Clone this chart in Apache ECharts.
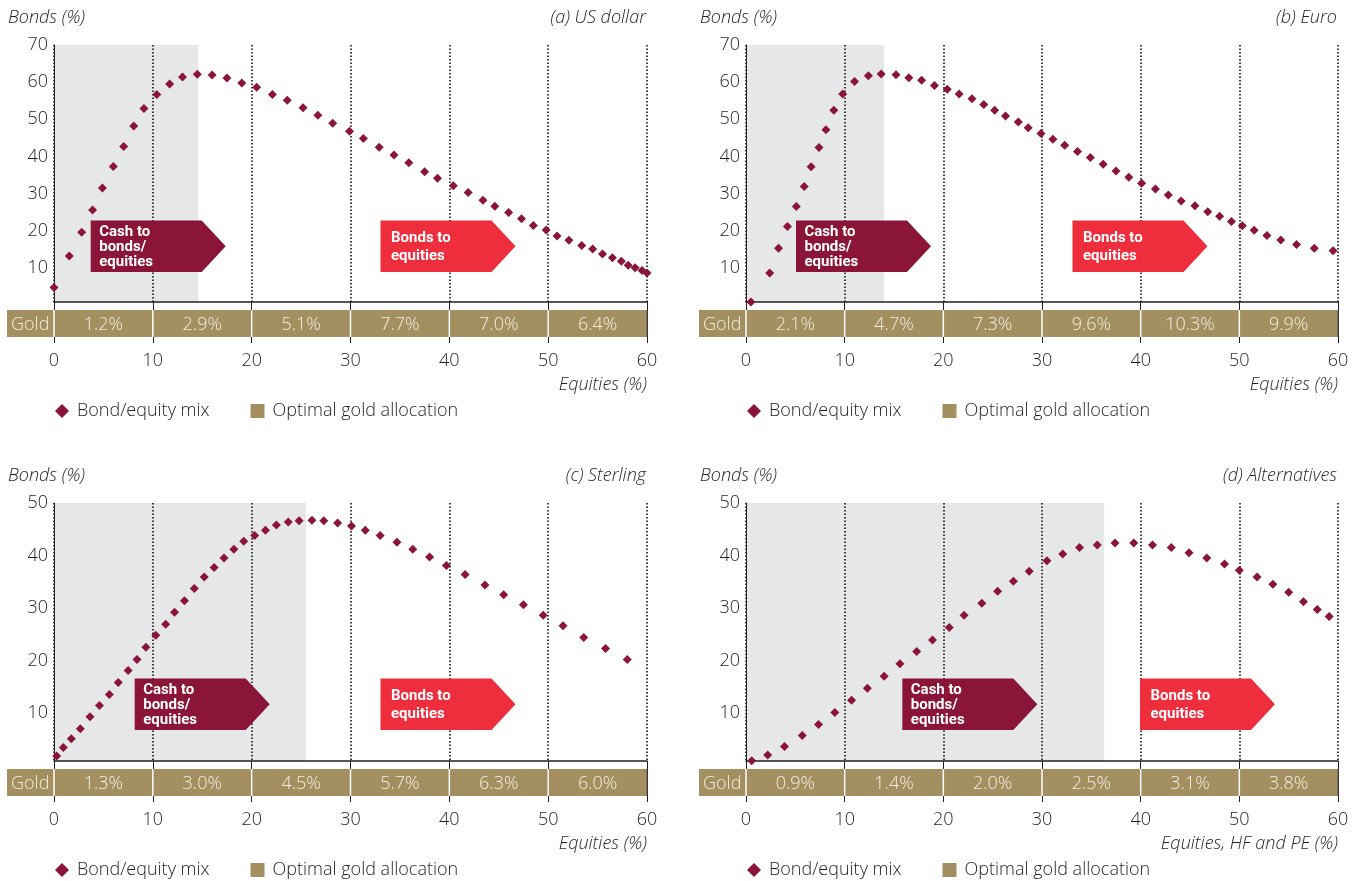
<!DOCTYPE html>
<html><head><meta charset="utf-8">
<script src="https://cdn.jsdelivr.net/npm/echarts@6/dist/echarts.min.js"></script>
<style>html,body{margin:0;padding:0;background:#fff}#c{width:1359px;height:881px}</style>
</head><body><div id="c"></div>
<script>
// ---------- data ----------
const equityTicks = [0, 10, 20, 30, 40, 50, 60];
const bondTicksUpper = [10, 20, 30, 40, 50, 60, 70];
const bondTicksLower = [10, 20, 30, 40, 50];

const usdEquities = [0, 1.55, 2.8, 3.9, 4.9, 6.0, 7.05, 8.07, 9.1, 10.4, 11.7, 13.0, 14.5, 16.0, 17.5, 19.0, 20.5, 22.1, 23.6, 25.2, 26.7, 28.2, 29.9, 31.3, 32.9, 34.4, 35.9, 37.5, 38.8, 40.4, 41.9, 43.4, 44.6, 46.0, 47.3, 48.5, 49.8, 50.9, 52.1, 53.4, 54.5, 55.5, 56.5, 57.4, 58.1, 58.8, 59.5, 60.0];
const usdBonds = [4.7, 13.2, 19.6, 25.6, 31.5, 37.3, 42.7, 48.2, 52.9, 56.7, 59.5, 61.4, 62.1, 61.9, 61.1, 59.8, 58.6, 56.7, 55.1, 53.1, 51.1, 48.9, 46.8, 44.8, 42.5, 40.4, 38.3, 35.9, 34.1, 32.1, 30.3, 28.2, 26.6, 24.9, 23.2, 21.4, 20.2, 18.6, 17.4, 16.0, 15.1, 13.7, 12.7, 11.8, 10.7, 10.0, 9.3, 8.6];
const usdGold = [1.2, 2.9, 5.1, 7.7, 7.0, 6.4];
const usdShadeEnd = 14.6;

const eurEquities = [0.5, 2.4, 3.3, 4.2, 5.1, 5.9, 6.6, 7.4, 8.1, 8.9, 9.8, 11.0, 12.4, 13.7, 15.2, 16.5, 17.8, 19.1, 20.4, 21.6, 22.9, 24.1, 25.2, 26.3, 27.6, 28.6, 29.9, 31.1, 32.3, 33.6, 34.9, 36.2, 37.5, 38.8, 40.1, 41.5, 42.8, 44.1, 45.5, 46.8, 48.0, 49.2, 50.3, 51.5, 52.8, 54.2, 55.8, 57.6, 59.5];
const eurBonds = [0.8, 8.6, 15.3, 21.1, 26.5, 31.9, 37.2, 42.4, 47.2, 52.4, 56.8, 60.2, 61.7, 62.2, 62.0, 61.2, 60.5, 59.1, 58.1, 56.8, 55.5, 54.0, 52.4, 50.9, 49.3, 47.7, 46.2, 44.6, 43.0, 41.3, 39.7, 37.9, 36.1, 34.4, 32.8, 31.2, 29.6, 28.0, 26.7, 25.1, 23.9, 22.5, 21.3, 20.1, 18.7, 17.5, 16.3, 15.3, 14.6];
const eurGold = [2.1, 4.7, 7.3, 9.6, 10.3, 9.9];
const eurShadeEnd = 14.0;

const gbpEquities = [0.27, 0.94, 1.75, 2.66, 3.64, 4.6, 5.6, 6.5, 7.5, 8.4, 9.3, 10.3, 11.3, 12.2, 13.2, 14.2, 15.2, 16.2, 17.2, 18.2, 19.2, 20.3, 21.4, 22.5, 23.7, 24.8, 26.1, 27.3, 28.7, 30.1, 31.5, 33.0, 34.7, 36.3, 38.0, 39.7, 41.6, 43.6, 45.5, 47.5, 49.5, 51.5, 53.6, 55.8, 58.0];
const gbpBonds = [1.8, 3.4, 5.1, 7.0, 9.3, 11.4, 13.5, 15.8, 18.1, 20.2, 22.5, 24.8, 26.9, 29.2, 31.4, 33.7, 35.9, 37.7, 39.5, 41.2, 42.7, 43.8, 44.8, 45.8, 46.4, 46.6, 46.7, 46.6, 46.2, 45.6, 44.8, 43.8, 42.5, 41.2, 39.7, 38.1, 36.4, 34.4, 32.5, 30.6, 28.6, 26.6, 24.4, 22.3, 20.2];
const gbpGold = [1.3, 3.0, 4.5, 5.7, 6.3, 6.0];
const gbpShadeEnd = 25.5;

const altEquities = [0.58, 2.2, 3.9, 5.7, 7.35, 9.0, 10.7, 12.3, 14.0, 15.6, 17.3, 18.9, 20.6, 22.1, 23.9, 25.5, 27.1, 28.7, 30.5, 32.1, 33.8, 35.6, 37.4, 39.3, 41.2, 43.1, 44.9, 46.7, 48.5, 50.0, 51.8, 53.4, 55.0, 56.5, 57.9, 59.1];
const altBonds = [0.9, 2.0, 3.6, 5.7, 7.8, 10.1, 12.4, 14.7, 17.0, 19.4, 21.7, 23.9, 26.3, 28.6, 30.9, 33.2, 35.1, 37.0, 39.0, 40.3, 41.5, 42.0, 42.4, 42.4, 42.0, 41.5, 40.5, 39.5, 38.4, 37.2, 35.9, 34.5, 33.0, 31.2, 29.7, 28.4];
const altGold = [0.9, 1.4, 2.0, 2.5, 3.1, 3.8];
const altShadeEnd = 36.3;

const seriesName = 'Bond/equity mix';
const goldName = 'Optimal gold allocation';

// ---------- layout / style ----------
const FONT = '"Open Sans", Roboto, "Liberation Sans", sans-serif';
const BOLDFONT = 'Roboto, "Liberation Sans", sans-serif';
const FS = 18;
const INK = '#231f20';
const MAROON = '#8a1538';
const RED = '#ee2d3d';
const GOLD = '#a38f5f';
const GOLD_TEXT = '#f4efe3';
const SHADE = '#e6e7e8';

const panels = [
  {grid: {left: 54, top: 45, width: 593, height: 257}, yMin: 0.8, yMax: 70, yTicks: bondTicksUpper,
   xs: usdEquities, ys: usdBonds, gold: usdGold, shade: usdShadeEnd,
   title: '(a) US dollar', xName: 'Equities (%)', cashX: 36.7, bondsX: 326.5},
  {grid: {left: 746, top: 45, width: 592, height: 257}, yMin: 0.8, yMax: 70, yTicks: bondTicksUpper,
   xs: eurEquities, ys: eurBonds, gold: eurGold, shade: eurShadeEnd,
   title: '(b) Euro', xName: 'Equities (%)', cashX: 50, bondsX: 326.5},
  {grid: {left: 54, top: 503, width: 593, height: 258}, yMin: 0.85, yMax: 50, yTicks: bondTicksLower,
   xs: gbpEquities, ys: gbpBonds, gold: gbpGold, shade: gbpShadeEnd,
   title: '(c) Sterling', xName: 'Equities (%)', cashX: 80.7, bondsX: 326.5},
  {grid: {left: 746, top: 503, width: 592, height: 258}, yMin: 0.85, yMax: 50, yTicks: bondTicksLower,
   xs: altEquities, ys: altBonds, gold: altGold, shade: altShadeEnd,
   title: '(d) Alternatives', xName: 'Equities, HF and PE (%)', cashX: 156.3, bondsX: 394}
];

const grids = [], xAxes = [], yAxes = [], series = [], legends = [], graphics = [];

function shadeRender(params, api) {
  const cs = params.coordSys;
  const x0 = api.coord([api.value(0), 10])[0];
  const x1 = api.coord([api.value(1), 10])[0];
  return {type: 'rect', shape: {x: x0, y: cs.y, width: x1 - x0, height: cs.height}, style: {fill: SHADE}};
}

function goldRender(params, api) {
  const cs = params.coordSys;
  const x0 = api.coord([api.value(0), 10])[0];
  const x1 = api.coord([api.value(1), 10])[0];
  const base = cs.y + cs.height;
  const top = base + 8, h = 27;
  const font = '300 ' + FS + 'px ' + FONT;
  const children = [];
  if (params.dataIndex === 0) {
    children.push({type: 'rect', shape: {x: cs.x - 47, y: top, width: 47, height: h}, style: {fill: GOLD}});
    children.push({type: 'text', x: cs.x - 43, y: top + h / 2 + 1,
      style: {text: 'Gold', fill: GOLD_TEXT, font: font, align: 'left', verticalAlign: 'middle'}});
  }
  children.push({type: 'rect', shape: {x: x0, y: top, width: x1 - x0, height: h}, style: {fill: GOLD}});
  children.push({type: 'text', x: (x0 + x1) / 2, y: top + h / 2 + 1,
    style: {text: api.value(2).toFixed(1) + '%', fill: GOLD_TEXT, font: font, align: 'center', verticalAlign: 'middle'}});
  children.push({type: 'line', shape: {x1: x0, y1: top, x2: x0, y2: top + h}, style: {stroke: '#ffffff', lineWidth: 1.5}});
  if (api.value(1) === equityTicks[equityTicks.length - 1]) {
    children.push({type: 'line', shape: {x1: x1, y1: top, x2: x1, y2: top + h}, style: {stroke: '#555', lineWidth: 1}});
  }
  return {type: 'group', children: children};
}

panels.forEach((p, i) => {
  const g = p.grid;
  grids.push(Object.assign({containLabel: false}, g));
  xAxes.push({
    gridIndex: i, type: 'value', min: equityTicks[0], max: equityTicks[equityTicks.length - 1], interval: 10, z: 1,
    axisLine: {show: true, lineStyle: {color: INK, width: 1.5}},
    axisTick: {show: true, length: 41, lineStyle: {color: INK, width: 1}},
    axisLabel: {margin: 50, color: INK, fontFamily: FONT, fontWeight: 300, fontSize: FS},
    splitLine: {show: true, lineStyle: {color: '#111', width: 1.6, type: [1.5, 2]}}
  });
  yAxes.push({
    gridIndex: i, type: 'value', min: p.yMin, max: p.yMax, z: 1,
    axisLine: {show: true, lineStyle: {color: INK, width: 1}},
    axisTick: {show: false},
    axisLabel: {customValues: p.yTicks, margin: 6, color: INK, fontFamily: FONT, fontWeight: 300, fontSize: FS},
    splitLine: {show: false}
  });
  series.push({
    type: 'custom', xAxisIndex: i, yAxisIndex: i, z: 0, silent: true,
    renderItem: shadeRender, encode: {x: [0, 1]}, data: [[0, p.shade]]
  });
  series.push({
    name: seriesName, type: 'scatter', xAxisIndex: i, yAxisIndex: i, z: 3, clip: false,
    symbol: 'diamond', symbolSize: 9, itemStyle: {color: MAROON, opacity: 1},
    data: p.xs.map((x, k) => [x, p.ys[k]])
  });
  series.push({
    name: goldName, type: 'custom', xAxisIndex: i, yAxisIndex: i, z: 4, clip: false,
    itemStyle: {color: GOLD}, renderItem: goldRender, encode: {x: [0, 1]},
    data: p.gold.map((v, k) => [equityTicks[k], equityTicks[k + 1], v])
  });
  const base = g.top + g.height;
  legends.push({
    left: g.left + 1, top: base + 100, padding: 0, itemWidth: 14, itemHeight: 14, itemGap: 41,
    selectedMode: false,
    textStyle: {color: INK, fontFamily: FONT, fontWeight: 300, fontSize: FS, padding: [0, 0, 0, 3]},
    data: [{name: seriesName, icon: 'diamond', itemStyle: {opacity: 1}}, {name: goldName, icon: 'rect'}]
  });
  const right = g.left + g.width;
  const itfont = 'italic 300 ' + FS + 'px ' + FONT;
  graphics.push({type: 'text', x: g.left - 46, y: g.top - 27, z: 10,
    style: {text: 'Bonds (%)', font: itfont, fill: INK, align: 'left', verticalAlign: 'middle'}});
  graphics.push({type: 'text', x: right - 1, y: g.top - 27, z: 10,
    style: {text: p.title, font: itfont, fill: INK, align: 'right', verticalAlign: 'middle'}});
  graphics.push({type: 'text', x: right, y: base + 83, z: 10,
    style: {text: p.xName, font: itfont, fill: INK, align: 'right', verticalAlign: 'middle'}});
  // arrow boxes
  const by0 = g.top + 175.5, by1 = by0 + 51.5, bym = (by0 + by1) / 2;
  const box = (x0) => [[x0, by0], [x0 + 111, by0], [x0 + 135, bym], [x0 + 111, by1], [x0, by1]];
  const cx = g.left + p.cashX, bx = g.left + p.bondsX;
  graphics.push({type: 'polygon', z: 10, shape: {points: box(cx)}, style: {fill: MAROON}});
  graphics.push({type: 'text', z: 11, x: cx + 8.5, y: bym + 0.5,
    style: {text: 'Cash to\nbonds/\nequities', font: 'bold 15px ' + BOLDFONT, fill: '#fff', lineHeight: 15, align: 'left', verticalAlign: 'middle'}});
  graphics.push({type: 'polygon', z: 10, shape: {points: box(bx)}, style: {fill: RED}});
  graphics.push({type: 'text', z: 11, x: bx + 10.5, y: bym + 1,
    style: {text: 'Bonds to\nequities', font: 'bold 15px ' + BOLDFONT, fill: '#fff', lineHeight: 18, align: 'left', verticalAlign: 'middle'}});
});

const chart = echarts.init(document.getElementById('c'), null, {renderer: 'canvas'});
chart.setOption({
  backgroundColor: '#ffffff',
  animation: false,
  grid: grids, xAxis: xAxes, yAxis: yAxes, series: series, legend: legends,
  graphic: graphics
});
</script></body></html>
